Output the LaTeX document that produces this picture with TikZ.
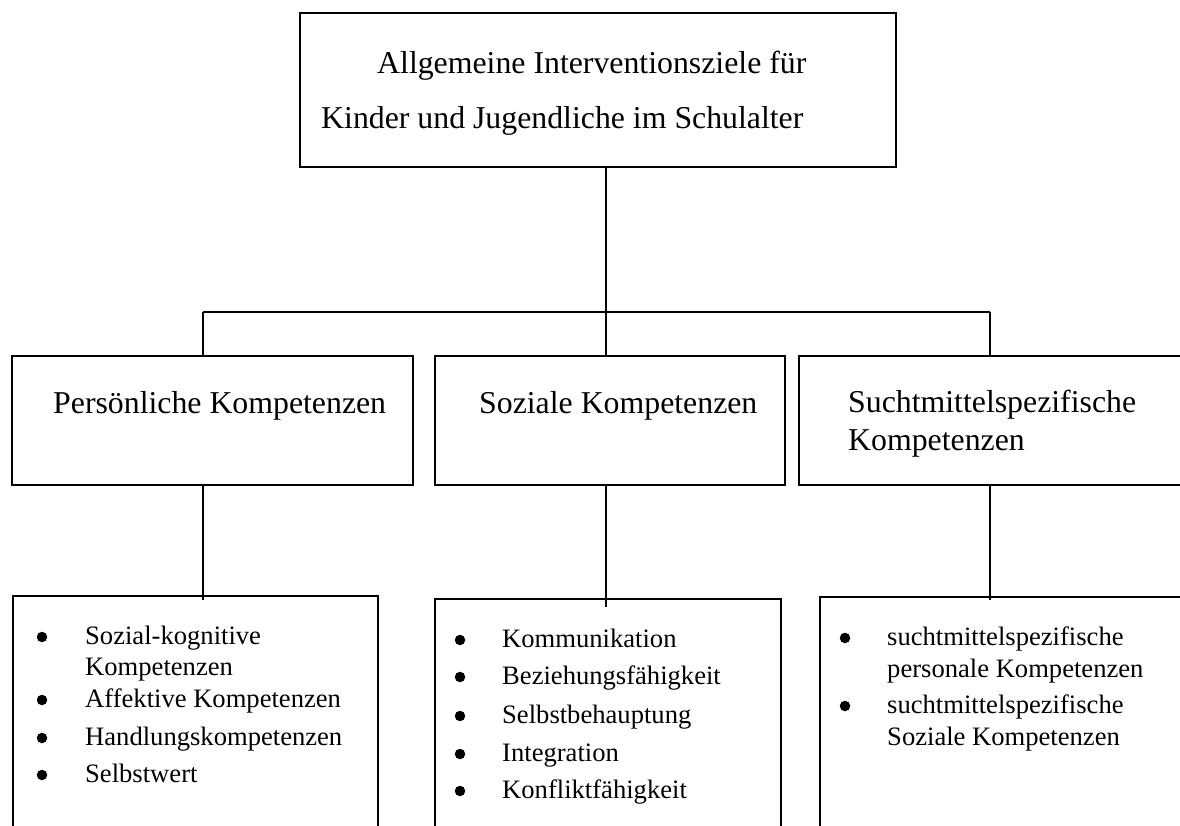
\documentclass[tikz,border=0pt]{standalone}
\usepackage{fontspec}
\setmainfont{Liberation Serif}
\begin{document}
\begin{tikzpicture}[x=1pt,y=-1pt,
  box/.style={draw, line width=2pt, rectangle, anchor=north west, inner sep=0pt},
  link/.style={line width=1.6pt},
  headtext/.style={anchor=base west, inner sep=0pt, font=\fontsize{31.8}{36}\selectfont},
  itemtext/.style={anchor=base west, inner sep=0pt, font=\fontsize{26.6}{31}\selectfont},
  dot/.style={circle, fill=black, minimum size=10.5pt, inner sep=0pt}]
\useasboundingbox (0,0) rectangle (1180,825);
\clip (0,0) rectangle (1180,825);
\fill[white] (0,0) rectangle (1180,825);

% main goal box
\node[box, minimum width=596pt, minimum height=154pt] (top) at (299,12) {};
\node[headtext] (t1) at (377,73) {Allgemeine Interventionsziele für};
\node[headtext] (t2) at (321,128) {Kinder und Jugendliche im Schulalter};

% competence areas
\node[box, minimum width=401pt, minimum height=129pt] (m1) at (11,355) {};
\node[box, minimum width=350pt, minimum height=129pt] (m2) at (434,355) {};
\node[box, minimum width=402pt, minimum height=129pt] (m3) at (798,355) {};
\node[headtext] (m1t) at (53,413) {Persönliche Kompetenzen};
\node[headtext] (m2t) at (479,413) {Soziale Kompetenzen};
\node[headtext] (m3t) at (848,412) {Suchtmittelspezifische};
\node[headtext] (m3u) at (848,450) {Kompetenzen};

% detail boxes (open towards the bottom edge)
\node[box, minimum width=365pt, minimum height=265pt] (b1) at (12,595) {};
\node[box, minimum width=346pt, minimum height=265pt] (b2) at (434,598) {};
\node[box, minimum width=381pt, minimum height=265pt] (b3) at (819,596) {};

% tree connectors
\coordinate (busL) at (203,312);
\coordinate (busC) at (606,312);
\coordinate (busR) at (990,312);
\coordinate (endL) at (203,600);
\coordinate (endC) at (606,607);
\coordinate (endR) at (990,600);
\draw[link] (top.south -| busC) -- (busC);
\draw[link] (busL) -- (busR);
\draw[link] (busL) -- (busL |- m1.north);
\draw[link] (busC) -- (busC |- m2.north);
\draw[link] (busR) -- (busR |- m3.north);
\draw[link] (endL |- m1.south) -- (endL);
\draw[link] (endC |- m2.south) -- (endC);
\draw[link] (endR |- m3.south) -- (endR);

% personal competences
\node[dot] (a1) at (42,637) {};
\node[itemtext] (a1t) at (85,644) {Sozial-kognitive};
\node[itemtext] (a1u) at (85,675) {Kompetenzen};
\node[dot] (a2) at (42,700) {};
\node[itemtext] (a2t) at (85,707) {Affektive Kompetenzen};
\node[dot] (a3) at (42,738) {};
\node[itemtext] (a3t) at (85,745) {Handlungskompetenzen};
\node[dot] (a4) at (42,775) {};
\node[itemtext] (a4t) at (85,782) {Selbstwert};

% social competences
\node[dot] (s1) at (460,640) {};
\node[itemtext] (s1t) at (502,647) {Kommunikation};
\node[dot] (s2) at (460,677) {};
\node[itemtext] (s2t) at (502,684) {Beziehungsfähigkeit};
\node[dot] (s3) at (460,716) {};
\node[itemtext] (s3t) at (502,723) {Selbstbehauptung};
\node[dot] (s4) at (460,754) {};
\node[itemtext] (s4t) at (502,761) {Integration};
\node[dot] (s5) at (460,791) {};
\node[itemtext] (s5t) at (502,798) {Konfliktfähigkeit};

% substance-specific competences
\node[dot] (c1) at (845,638) {};
\node[itemtext] (c1t) at (887,645) {suchtmittelspezifische};
\node[itemtext] (c1u) at (887,677) {personale Kompetenzen};
\node[dot] (c2) at (845,706) {};
\node[itemtext] (c2t) at (887,713) {suchtmittelspezifische};
\node[itemtext] (c2u) at (887,745) {Soziale Kompetenzen};
\end{tikzpicture}
\end{document}
